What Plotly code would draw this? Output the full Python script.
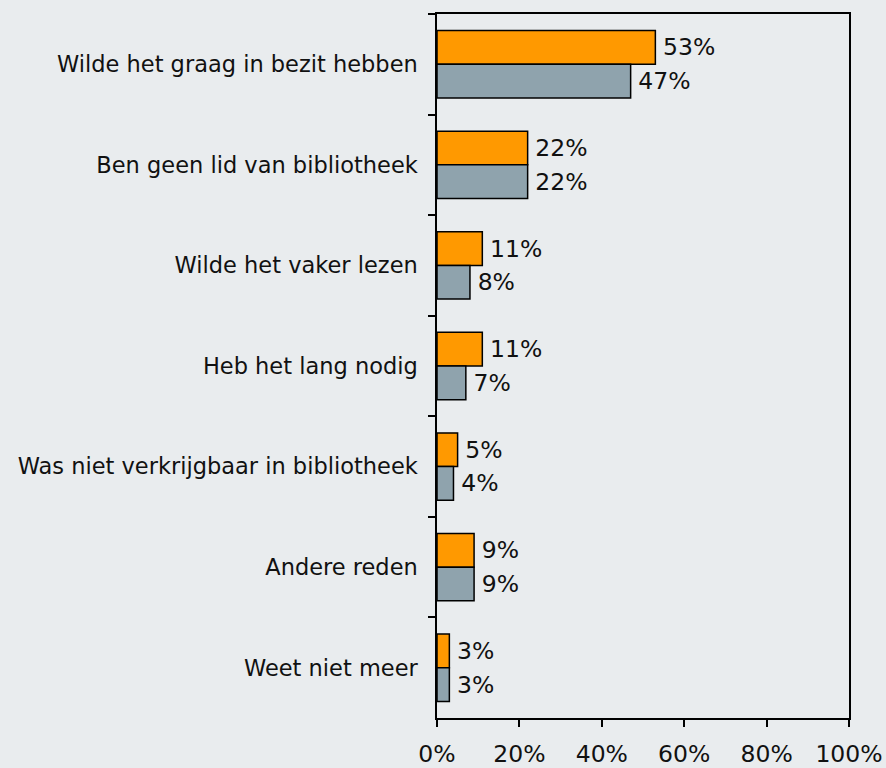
import plotly.graph_objects as go

categories = [
    "Wilde het graag in bezit hebben",
    "Ben geen lid van bibliotheek",
    "Wilde het vaker lezen",
    "Heb het lang nodig",
    "Was niet verkrijgbaar in bibliotheek",
    "Andere reden",
    "Weet niet meer",
]
series_a = [53, 22, 11, 11, 5, 9, 3]
series_b = [47, 22, 8, 7, 4, 9, 3]
x_ticks = [0, 20, 40, 60, 80, 100]
x_tick_labels = ["0%", "20%", "40%", "60%", "80%", "100%"]

FONT = "DejaVu Sans"
BG = "#E9ECEE"

fig = go.Figure()
for vals, color in [(series_a, "#FF9900"), (series_b, "#8FA3AD")]:
    fig.add_trace(go.Bar(
        y=categories, x=vals, orientation="h",
        marker=dict(color=color, line=dict(color="#000000", width=1.5)),
        text=[f"\u2009{v}%" for v in vals], textposition="outside",
        textfont=dict(family=FONT, size=23.5, color="#111111"),
        cliponaxis=False, showlegend=False,
    ))

fig.update_layout(
    width=886, height=768,
    margin=dict(l=437, r=37, t=14, b=50, autoexpand=False),
    paper_bgcolor=BG, plot_bgcolor=BG,
    barmode="group", bargap=0.33, bargroupgap=0,
    font=dict(family=FONT, size=22, color="#111111"),
    uniformtext=dict(mode=False),
)
fig.update_xaxes(
    range=[0, 100], tickvals=x_ticks, ticktext=x_tick_labels, automargin=False,
    showgrid=False, zeroline=False, showline=True, linecolor="#000000", linewidth=1.5,
    mirror=True, ticks="outside", ticklen=7, tickcolor="#000000", tickwidth=1.5,
    ticklabelstandoff=7, tickfont=dict(family=FONT, size=23.5, color="#111111"),
)
fig.update_yaxes(
    autorange="reversed", showgrid=False, zeroline=False, showline=True, automargin=False,
    linecolor="#000000", linewidth=1.5, mirror=True,
    ticks="outside", tickson="boundaries", ticklen=7, tickcolor="#000000", tickwidth=1.5,
    ticklabelstandoff=13, tickfont=dict(family=FONT, size=22.5, color="#111111"),
)

fig.write_html(
    "out.html",
    config={"displayModeBar": False},
    post_script="document.body.style.margin='0';document.body.style.background='%s';" % BG,
)
